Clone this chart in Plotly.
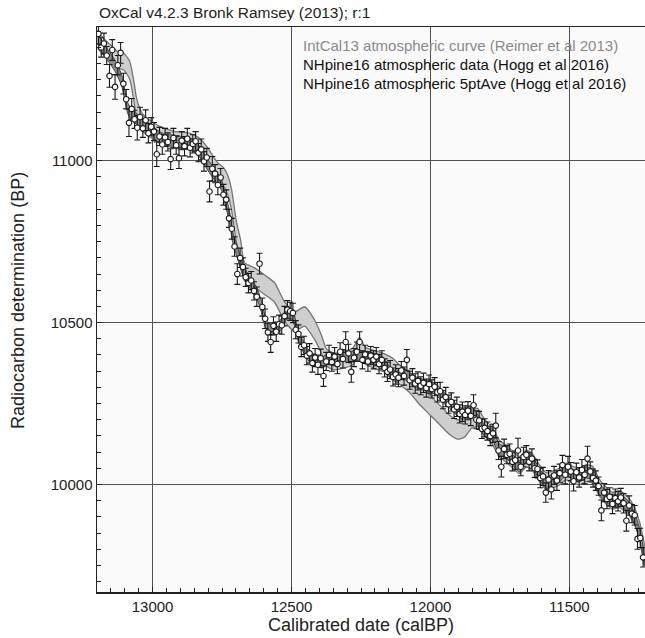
import plotly.graph_objects as go

# ---------------- data ----------------
# IntCal13 atmospheric curve (calBP, BP, 1-sigma)
intcal_cal = [13198, 13173, 13147, 13126, 13104, 13083, 13068, 13058, 13043, 13025,
              13000, 12975, 12921, 12867, 12831, 12806, 12788, 12766, 12745, 12730,
              12716, 12698, 12683, 12669, 12633, 12597, 12561, 12525, 12489, 12453,
              12417, 12392, 12374, 12345, 12309, 12280, 12255, 12235, 12191, 12162,
              12137, 12112, 12076, 12040, 12004, 11968, 11932, 11903, 11878, 11853,
              11831, 11806, 11777, 11752, 11727, 11705, 11680, 11655, 11633, 11608,
              11583, 11561, 11536, 11511, 11489, 11464, 11439, 11417, 11392, 11367,
              11345, 11320, 11295, 11273, 11248, 11228]
intcal_bp = [11373, 11349, 11328, 11312, 11306, 11281, 11219, 11164, 11127, 11108,
             11094, 11080, 11065, 11059, 11043, 11019, 10994, 10966, 10951, 10926,
             10880, 10778, 10725, 10657, 10639, 10617, 10593, 10534, 10503, 10519,
             10478, 10432, 10392, 10380, 10386, 10395, 10428, 10398, 10383, 10374,
             10361, 10340, 10315, 10278, 10247, 10216, 10185, 10170, 10176, 10201,
             10207, 10176, 10150, 10110, 10095, 10078, 10060, 10080, 10068, 10035,
             10010, 10015, 10025, 10040, 10030, 10025, 10035, 10030, 9990, 9965,
             9950, 9955, 9940, 9915, 9860, 9775]
intcal_err = [26, 26, 26, 26, 26, 28, 30, 30, 28, 26,
              26, 26, 26, 26, 26, 26, 28, 28, 28, 30,
              32, 32, 30, 28, 30, 30, 30, 30, 30, 30,
              30, 28, 26, 26, 26, 26, 26, 26, 28, 28,
              30, 30, 30, 30, 30, 30, 30, 30, 30, 28,
              28, 26, 26, 26, 26, 26, 26, 26, 26, 26,
              26, 26, 26, 26, 26, 26, 26, 26, 26, 26,
              26, 26, 26, 26, 26, 26]

# NHpine16 atmospheric 5ptAve (calBP, BP, 1-sigma)
ave_cal = [13198, 13183, 13162, 13137, 13112, 13100, 13090, 13076, 13054, 13029,
           13004, 12982, 12957, 12921, 12885, 12849, 12824, 12802, 12777, 12752,
           12741, 12723, 12712, 12698, 12687, 12676, 12651, 12626, 12608, 12597,
           12579, 12543, 12514, 12496, 12482, 12471, 12446, 12424, 12389, 12363,
           12338, 12317, 12291, 12266, 12245, 12219, 12194, 12173, 12148, 12122,
           12101, 12076, 12050, 12029, 12004, 11978, 11957, 11932, 11907, 11885,
           11871, 11849, 11824, 11799, 11777, 11752, 11727, 11705, 11680, 11655,
           11633, 11608, 11583, 11561, 11536, 11511, 11489, 11464, 11439, 11417,
           11392, 11367, 11345, 11320, 11295, 11273, 11248, 11230]
ave_bp = [11380, 11355, 11327, 11296, 11250, 11204, 11164, 11142, 11127, 11111,
          11093, 11077, 11065, 11062, 11056, 11046, 11019, 10988, 10957, 10926,
          10889, 10827, 10765, 10725, 10694, 10664, 10624, 10593, 10549, 10509,
          10478, 10488, 10531, 10525, 10478, 10448, 10408, 10386, 10377, 10392,
          10386, 10401, 10392, 10401, 10395, 10392, 10386, 10377, 10349, 10333,
          10346, 10330, 10315, 10309, 10303, 10293, 10272, 10253, 10232, 10219,
          10222, 10222, 10191, 10161, 10154, 10108, 10099, 10077, 10056, 10087,
          10071, 10031, 10006, 10016, 10025, 10046, 10031, 10025, 10037, 10031,
          9985, 9963, 9948, 9954, 9938, 9910, 9850, 9765]
ave_err = [17] * len(ave_bp)

# NHpine16 atmospheric data (calBP, BP, 1-sigma)
nh_cal = [13195, 13185, 13175, 13165, 13155, 13145, 13135, 13125, 13115, 13105,
          13095, 13085, 13075, 13065, 13055, 13045, 13035, 13025, 13015, 13005,
          12995, 12985, 12975, 12965, 12955, 12945, 12935, 12925, 12915, 12905,
          12895, 12885, 12875, 12865, 12855, 12845, 12835, 12825, 12815, 12805,
          12795, 12785, 12775, 12765, 12755, 12745, 12735, 12725, 12715, 12705,
          12695, 12685, 12675, 12665, 12655, 12645, 12635, 12625, 12615, 12605,
          12595, 12585, 12575, 12565, 12555, 12545, 12535, 12525, 12515, 12505,
          12495, 12485, 12475, 12465, 12455, 12445, 12435, 12425, 12415, 12405,
          12395, 12385, 12375, 12365, 12355, 12345, 12335, 12325, 12315, 12305,
          12295, 12285, 12275, 12265, 12255, 12245, 12235, 12225, 12215, 12205,
          12195, 12185, 12175, 12165, 12155, 12145, 12135, 12125, 12115, 12105,
          12095, 12085, 12075, 12065, 12055, 12045, 12035, 12025, 12015, 12005,
          11995, 11985, 11975, 11965, 11955, 11945, 11935, 11925, 11915, 11905,
          11895, 11885, 11875, 11865, 11855, 11845, 11835, 11825, 11815, 11805,
          11795, 11785, 11775, 11765, 11755, 11745, 11735, 11725, 11715, 11705,
          11695, 11685, 11675, 11665, 11655, 11645, 11635, 11625, 11615, 11605,
          11595, 11585, 11575, 11565, 11555, 11545, 11535, 11525, 11515, 11505,
          11495, 11485, 11475, 11465, 11455, 11445, 11435, 11425, 11415, 11405,
          11395, 11385, 11375, 11365, 11355, 11345, 11335, 11325, 11315, 11305,
          11295, 11285, 11275, 11265, 11255, 11245, 11235]
nh_bp = [11392, 11350, 11362, 11325, 11262, 11342, 11228, 11295, 11333, 11238,
         11190, 11117, 11160, 11128, 11102, 11135, 11100, 11125, 11085, 11105,
         11090, 11020, 11075, 11050, 11072, 11058, 11005, 11070, 11048, 11008,
         11062, 11045, 11068, 11040, 11052, 11060, 11025, 11035, 10998, 11010,
         10905, 10975, 10960, 10925, 10948, 10895, 10880, 10822, 10790, 10735,
         10650, 10700, 10672, 10640, 10622, 10630, 10598, 10580, 10682, 10548,
         10512, 10470, 10440, 10490, 10472, 10495, 10492, 10520, 10540, 10535,
         10530, 10478, 10465, 10425, 10430, 10398, 10405, 10375, 10392, 10370,
         10390, 10335, 10380, 10400, 10378, 10395, 10372, 10410, 10388, 10440,
         10405, 10348, 10392, 10410, 10440, 10385, 10402, 10380, 10398, 10385,
         10395, 10372, 10385, 10360, 10348, 10355, 10332, 10340, 10330, 10352,
         10335, 10385, 10322, 10330, 10312, 10320, 10305, 10314, 10298, 10310,
         10295, 10302, 10285, 10288, 10262, 10270, 10248, 10255, 10232, 10240,
         10218, 10225, 10215, 10228, 10212, 10245, 10200, 10198, 10172, 10175,
         10165, 10150, 10158, 10182, 10105, 10055, 10110, 10092, 10095, 10070,
         10075, 10105, 10055, 10085, 10092, 10070, 10080, 10050, 10048, 10020,
         10025, 9975, 10015, 9985, 10028, 10012, 10035, 10060, 10030, 10055,
         10040, 10010, 10038, 10022, 10045, 10030, 10080, 10040, 10020, 10012,
         9995, 9920, 9975, 9955, 9962, 9940, 9958, 9948, 9960, 9942,
         9888, 9935, 9910, 9905, 9832, 9835, 9775]
nh_err = [32, 30, 32, 28, 35, 32, 38, 30, 32, 32,
          30, 42, 32, 28, 38, 30, 28, 32, 30, 28,
          28, 38, 28, 30, 28, 28, 32, 30, 28, 32,
          28, 30, 32, 28, 28, 30, 28, 32, 30, 28,
          32, 38, 28, 30, 28, 32, 30, 28, 32, 30,
          32, 30, 28, 28, 30, 28, 28, 30, 32, 28,
          30, 28, 32, 28, 30, 28, 28, 30, 28, 28,
          30, 28, 28, 30, 28, 28, 30, 28, 28, 30,
          28, 32, 28, 30, 28, 28, 30, 28, 28, 32,
          28, 32, 28, 30, 32, 28, 28, 30, 28, 28,
          28, 30, 28, 28, 30, 28, 28, 30, 28, 28,
          28, 32, 28, 28, 30, 28, 28, 30, 28, 28,
          28, 28, 30, 28, 28, 30, 28, 28, 28, 30,
          28, 30, 28, 28, 30, 32, 28, 28, 30, 28,
          28, 30, 28, 38, 28, 32, 30, 28, 30, 28,
          28, 38, 28, 30, 28, 28, 30, 28, 28, 30,
          28, 30, 28, 30, 28, 30, 28, 30, 28, 32,
          28, 30, 28, 30, 32, 28, 38, 30, 28, 30,
          28, 32, 28, 30, 28, 30, 28, 30, 28, 30,
          32, 30, 28, 30, 32, 30, 30]

x_ticks = [13000, 12500, 12000, 11500]
y_ticks = [10000, 10500, 11000]

title_text = "OxCal v4.2.3 Bronk Ramsey (2013); r:1"
legend_lines = ["IntCal13 atmospheric curve (Reimer et al 2013)",
                "NHpine16 atmospheric data (Hogg et al 2016)",
                "NHpine16 atmospheric 5ptAve (Hogg et al 2016)"]
legend_colors = ["#8a8a8a", "#111111", "#111111"]

# ---------------- layout geometry ----------------
W, H = 645, 638
ML, MR, MT, MB = 97, 0, 27, 46
PW, PH = W - ML - MR, H - MT - MB
FONT = "Liberation Sans, Arial, Helvetica, sans-serif"


def px_x(p):
    return (p - ML) / PW


def px_y(p):
    return (H - MB - p) / PH


def band(cal, bp, err, fill, line, width):
    up = [b + e for b, e in zip(bp, err)]
    lo = [b - e for b, e in zip(bp, err)]
    return go.Scatter(x=list(cal) + list(cal)[::-1], y=up + lo[::-1],
                      mode="lines", fill="toself", fillcolor=fill,
                      line=dict(color=line, width=width, shape="spline", smoothing=0.6),
                      hoverinfo="skip", showlegend=False)


fig = go.Figure()
fig.add_trace(band(intcal_cal, intcal_bp, intcal_err, "#cfcfcf", "#767676", 1.3))
fig.add_trace(band(ave_cal, ave_bp, ave_err, "#8c8c8c", "#454545", 1.0))
fig.add_trace(go.Scatter(
    x=nh_cal, y=nh_bp, mode="markers",
    error_y=dict(type="data", array=nh_err, visible=True, color="#1a1a1a",
                 thickness=1.1, width=3),
    marker=dict(symbol="circle", size=5.5, color="white",
                line=dict(color="#1a1a1a", width=1.1)),
    showlegend=False, hoverinfo="skip"))

axis_common = dict(
    showline=True, linecolor="#222", linewidth=1.5,
    ticks="inside", ticklen=5, tickcolor="#222", tickwidth=1,
    showgrid=True, gridcolor="#505050", gridwidth=1.2,
    zeroline=False,
    tickfont=dict(family=FONT, size=15, color="#222"),
)

fig.update_xaxes(range=[13200, 11228], tickvals=x_ticks,
                 ticktext=[str(v) for v in x_ticks], mirror=True,
                 minor=dict(dtick=50, tick0=0, ticks="inside", ticklen=4,
                            tickcolor="#222", showgrid=False),
                 **axis_common)
fig.update_yaxes(range=[9668, 11413], tickvals=y_ticks,
                 ticktext=[str(v) for v in y_ticks],
                 minor=dict(dtick=50, tick0=0, ticks="inside", ticklen=4,
                            tickcolor="#222", showgrid=False),
                 **axis_common)

annotations = [
    dict(text=title_text, x=px_x(97), y=px_y(13), xref="paper", yref="paper",
         xanchor="left", yanchor="middle", showarrow=False,
         font=dict(family=FONT, size=15.5, color="#222")),
    dict(text="Calibrated date (calBP)", x=px_x(361), y=px_y(625), xref="paper",
         yref="paper", xanchor="center", yanchor="middle", showarrow=False,
         font=dict(family=FONT, size=18, color="#222")),
    dict(text="Radiocarbon determination (BP)", x=px_x(18), y=px_y(301),
         xref="paper", yref="paper", xanchor="center", yanchor="middle",
         showarrow=False, textangle=-90,
         font=dict(family=FONT, size=18, color="#222")),
]
for i, (t, c) in enumerate(zip(legend_lines, legend_colors)):
    annotations.append(dict(text=t, x=px_x(301), y=px_y(45 + 19.5 * i),
                            xref="paper", yref="paper", xanchor="left",
                            yanchor="middle", showarrow=False,
                            font=dict(family=FONT, size=15, color=c)))

fig.update_layout(
    width=W, height=H,
    margin=dict(l=ML, r=MR, t=MT, b=MB),
    paper_bgcolor="white", plot_bgcolor="#fafafa",
    annotations=annotations,
    showlegend=False,
)

fig.write_html("out.html",
               config={"displayModeBar": False, "staticPlot": True},
               post_script="document.body.style.margin='0';"
                           "document.body.style.overflow='hidden';")
